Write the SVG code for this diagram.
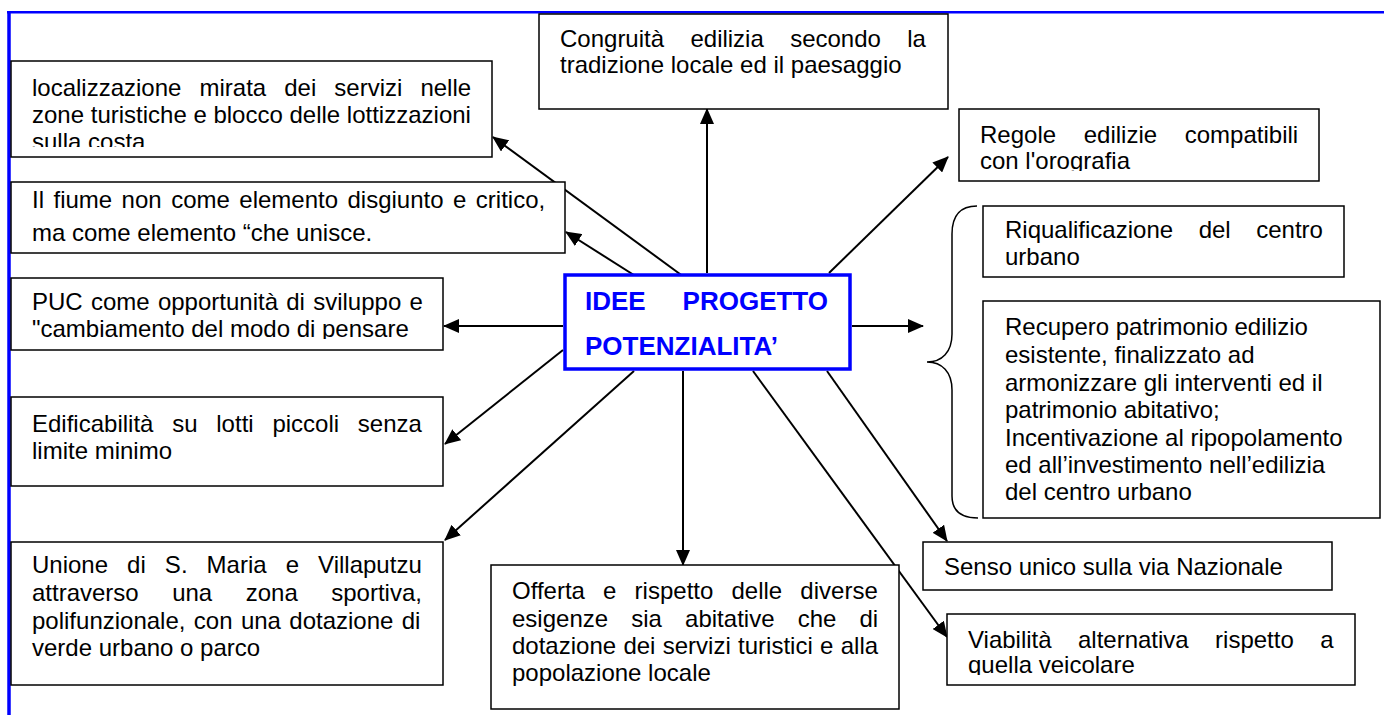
<svg xmlns="http://www.w3.org/2000/svg" width="1384" height="715" viewBox="0 0 1384 715">
<style>
.box{fill:#fff;stroke:#000;stroke-width:1.5}
.t{font-family:"Liberation Sans",Arial,sans-serif;font-size:24px;fill:#000}
.title{font-family:"Liberation Sans",Arial,sans-serif;font-size:26px;font-weight:bold;fill:#0000ff}
.c{stroke:#000;stroke-width:2;fill:none;marker-end:url(#ah)}
.frame{stroke:#0000ff;fill:none}
</style>
<defs>
<marker id="ah" markerUnits="userSpaceOnUse" markerWidth="16" markerHeight="14" refX="15" refY="7" orient="auto">
<path d="M0,0 L16,7 L0,14 z" fill="#000"/>
</marker>
<clipPath id="clipTL"><rect x="11" y="61" width="481" height="86"/></clipPath>
<clipPath id="clipRg"><rect x="959" y="109" width="360" height="62"/></clipPath>
<clipPath id="clipPUC"><rect x="11" y="278" width="432" height="61"/></clipPath>
<clipPath id="clipVia"><rect x="947" y="614" width="408" height="61"/></clipPath>
</defs>
<rect width="1384" height="715" fill="#fff"/>
<g id="frame">
<line class="frame" x1="7" y1="12.3" x2="1384" y2="12.3" stroke-width="2.6"/>
<line class="frame" x1="9" y1="11" x2="9" y2="715" stroke-width="3.5"/>
</g>
<g id="connectors">
<line class="c" x1="707" y1="273" x2="707" y2="109"/>
<line class="c" x1="829" y1="273" x2="948" y2="157"/>
<line class="c" x1="852" y1="326" x2="923" y2="326"/>
<line class="c" x1="827" y1="371" x2="947" y2="541"/>
<line class="c" x1="753" y1="371" x2="947" y2="637"/>
<line class="c" x1="683" y1="371" x2="683" y2="565"/>
<line class="c" x1="634" y1="371" x2="445" y2="540"/>
<line class="c" x1="563" y1="350" x2="445" y2="444"/>
<line class="c" x1="563" y1="326" x2="444" y2="326"/>
<line class="c" x1="637" y1="277" x2="566" y2="232"/>
<line class="c" x1="684" y1="277" x2="493" y2="137"/>
</g>
<g id="brace">
<path d="M977,206 C962,206 952,214 952,234 L952,334 C952,352 942,362 927,362 C942,362 952,372 952,390 L952,496 C952,512 962,518 978,518" fill="none" stroke="#000" stroke-width="1.5"/>
</g>
<g id="n-localizzazione">
<rect class="box" x="11" y="61" width="481" height="96"/>
<g clip-path="url(#clipTL)">
<text class="t" x="32" y="96" word-spacing="11.4">localizzazione mirata dei servizi nelle</text>
<text class="t" x="32" y="123">zone turistiche e blocco delle lottizzazioni</text>
<text class="t" x="32" y="150">sulla costa</text>
</g>
</g>
<g id="n-congruita">
<rect class="box" x="539" y="14" width="409" height="95"/>
<text class="t" x="560" y="47" word-spacing="19.7">Congruità edilizia secondo la</text>
<text class="t" x="560" y="73">tradizione locale ed il paesaggio</text>
</g>
<g id="n-regole">
<rect class="box" x="959" y="109" width="360" height="72"/>
<g clip-path="url(#clipRg)">
<text class="t" x="980" y="143" word-spacing="21">Regole edilizie compatibili</text>
<text class="t" x="980" y="169">con l'orografia</text>
</g>
</g>
<g id="n-fiume">
<rect class="box" x="11" y="182" width="554" height="71"/>
<text class="t" x="32" y="208" word-spacing="2.8">Il fiume non come elemento disgiunto e critico,</text>
<text class="t" x="32" y="241">ma come elemento “che unisce.</text>
</g>
<g id="n-puc">
<rect class="box" x="11" y="278" width="432" height="72"/>
<g clip-path="url(#clipPUC)">
<text class="t" x="32" y="310" word-spacing="1.6">PUC come opportunità di sviluppo e</text>
<text class="t" x="32" y="337">"cambiamento del modo di pensare</text>
</g>
</g>
<g id="n-center">
<rect x="565" y="275" width="285" height="94" fill="#fff" stroke="#0000ff" stroke-width="3.5"/>
<text class="title" x="585" y="310">IDEE</text>
<text class="title" x="828" y="310" text-anchor="end">PROGETTO</text>
<text class="title" x="585" y="355">POTENZIALITA’</text>
</g>
<g id="n-edificabilita">
<rect class="box" x="11" y="397" width="432" height="89"/>
<text class="t" x="32" y="432" word-spacing="12.1">Edificabilità su lotti piccoli senza</text>
<text class="t" x="32" y="459">limite minimo</text>
</g>
<g id="n-unione">
<rect class="box" x="11" y="542" width="432" height="143"/>
<text class="t" x="32" y="573" word-spacing="12.4">Unione di S. Maria e Villaputzu</text>
<text class="t" x="32" y="601" word-spacing="26.8">attraverso una zona sportiva,</text>
<text class="t" x="32" y="629" word-spacing="1.7">polifunzionale, con una dotazione di</text>
<text class="t" x="32" y="656">verde urbano o parco</text>
</g>
<g id="n-offerta">
<rect class="box" x="491" y="565" width="408" height="144"/>
<text class="t" x="512" y="599" word-spacing="11.5">Offerta e rispetto delle diverse</text>
<text class="t" x="512" y="627" word-spacing="16.5">esigenze sia abitative che di</text>
<text class="t" x="512" y="654" word-spacing="0.65">dotazione dei servizi turistici e alla</text>
<text class="t" x="512" y="681">popolazione locale</text>
</g>
<g id="n-riqualificazione">
<rect class="box" x="983" y="206" width="361" height="71"/>
<text class="t" x="1005" y="238" word-spacing="18.9">Riqualificazione del centro</text>
<text class="t" x="1005" y="265">urbano</text>
</g>
<g id="n-recupero">
<rect class="box" x="983" y="301" width="397" height="217"/>
<text class="t" x="1005" y="335">Recupero patrimonio edilizio</text>
<text class="t" x="1005" y="363">esistente, finalizzato ad</text>
<text class="t" x="1005" y="391">armonizzare gli interventi ed il</text>
<text class="t" x="1005" y="418">patrimonio abitativo;</text>
<text class="t" x="1005" y="446">Incentivazione al ripopolamento</text>
<text class="t" x="1005" y="473">ed all’investimento nell’edilizia</text>
<text class="t" x="1005" y="500">del centro urbano</text>
</g>
<g id="n-senso">
<rect class="box" x="923" y="542" width="409" height="48"/>
<text class="t" x="944" y="575">Senso unico sulla via Nazionale</text>
</g>
<g id="n-viabilita">
<rect class="box" x="947" y="614" width="408" height="71"/>
<g clip-path="url(#clipVia)">
<text class="t" x="968" y="648" word-spacing="19.7">Viabilità alternativa rispetto a</text>
<text class="t" x="968" y="673">quella veicolare</text>
</g>
</g>
</svg>
